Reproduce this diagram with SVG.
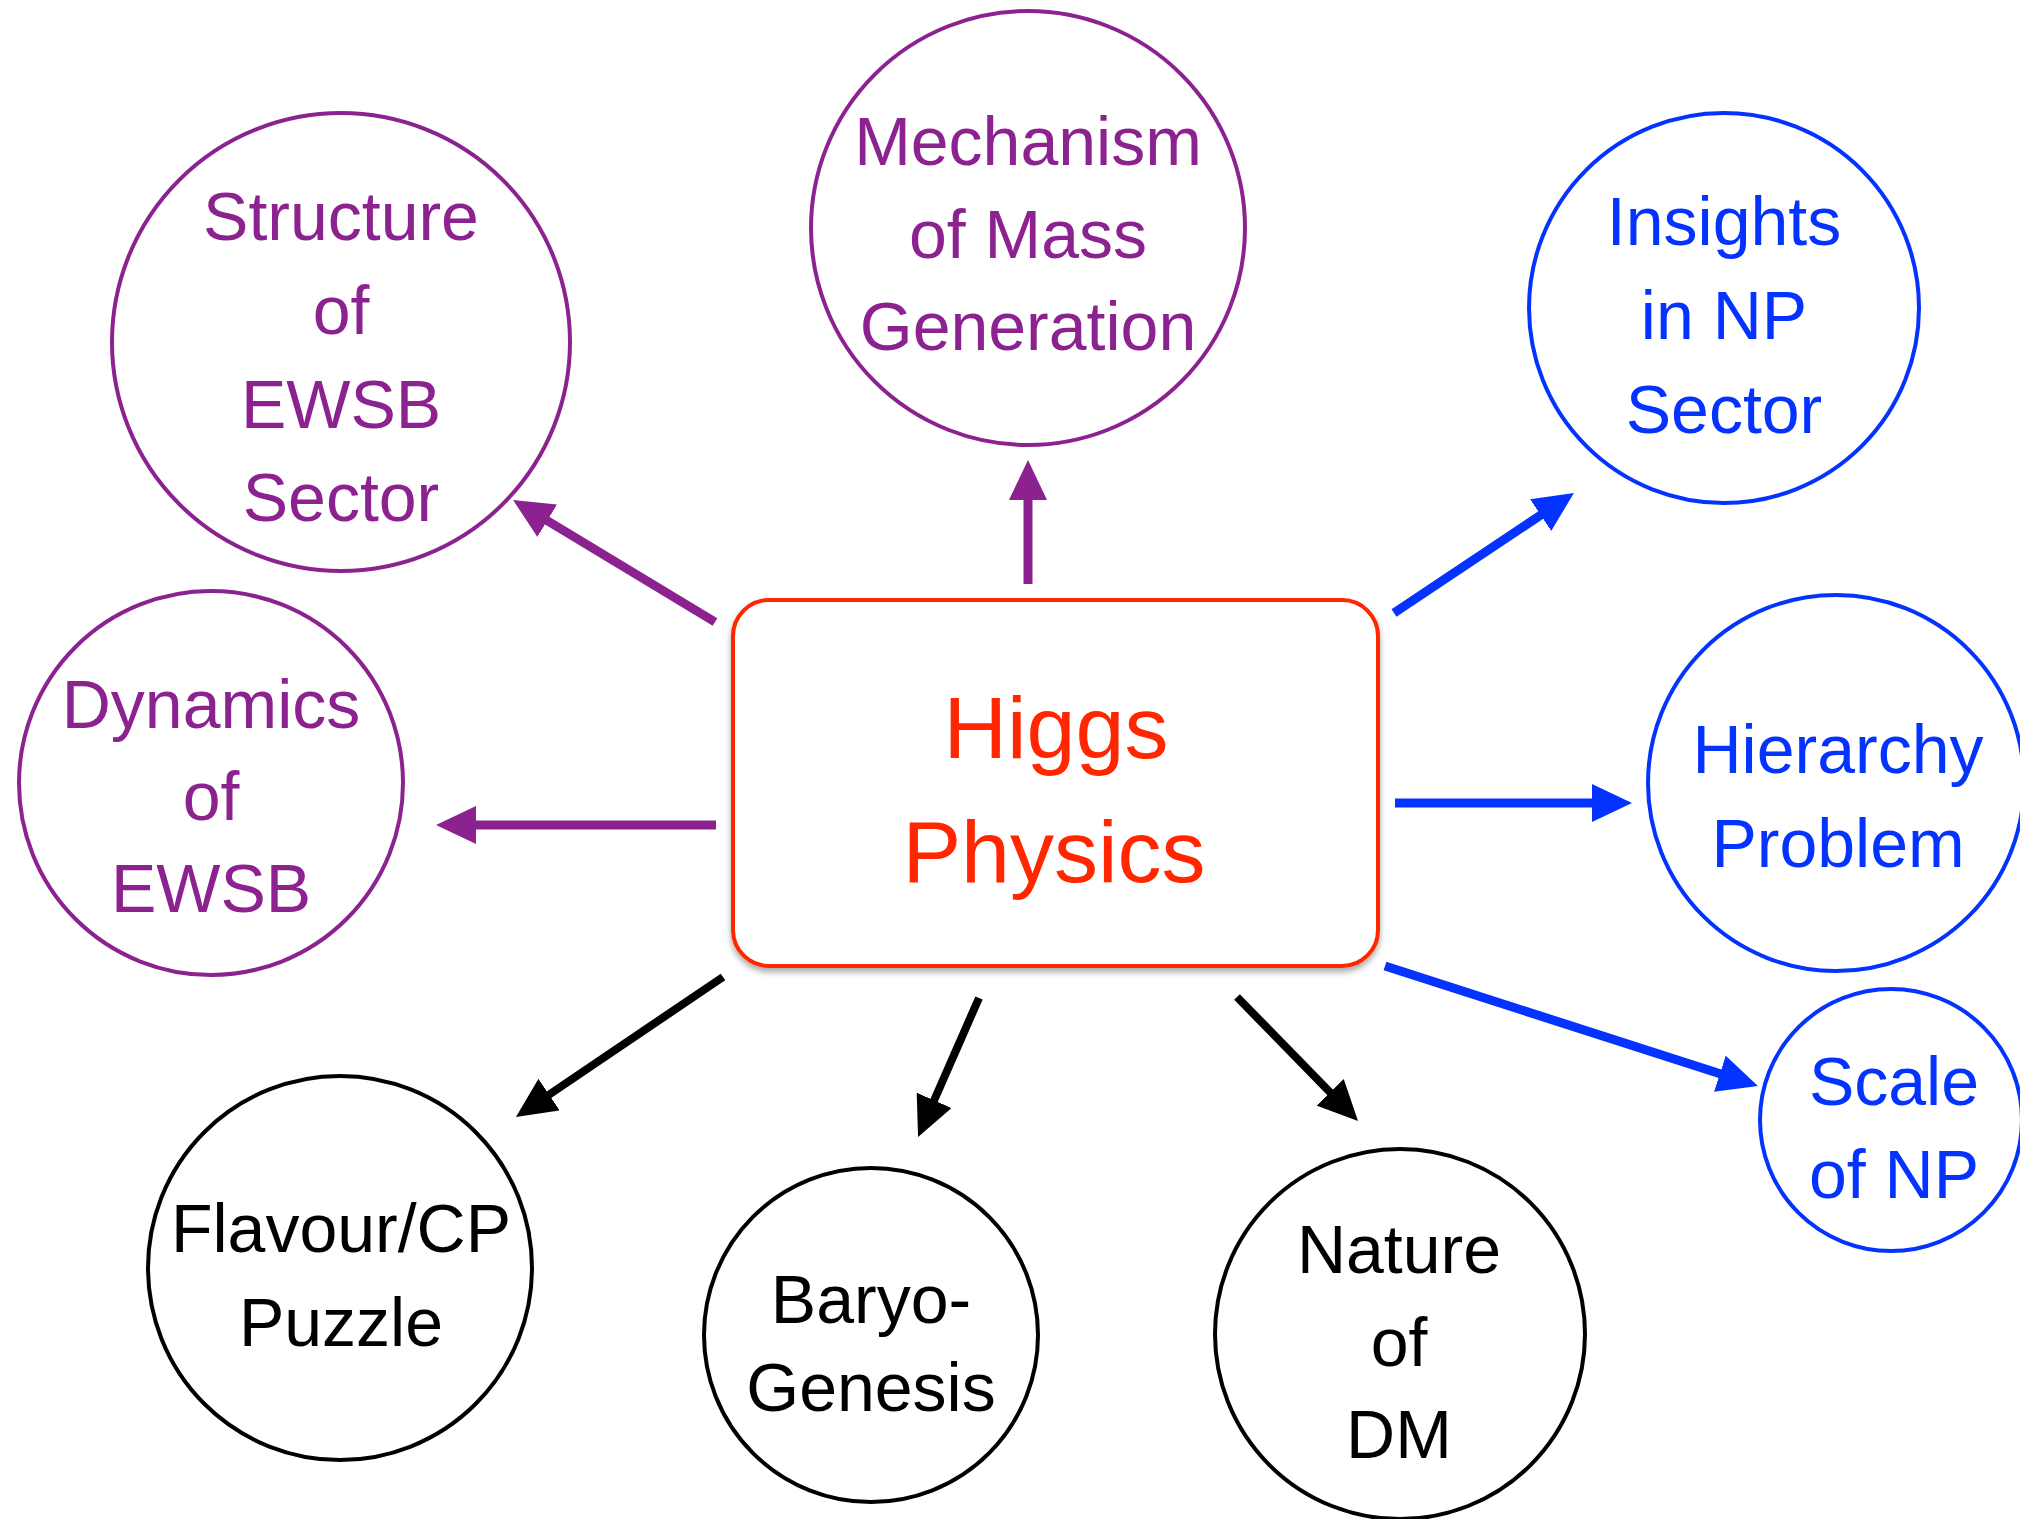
<svg xmlns="http://www.w3.org/2000/svg" width="2020" height="1519" viewBox="0 0 2020 1519">
<defs>
<style>
.t{font-family:"Liberation Sans","DejaVu Sans",sans-serif;font-size:68px;text-anchor:middle}
.pur{fill:#8B2290}.blu{fill:#0433FF}.blk{fill:#000}
.cp{fill:#fff;stroke:#8B2290;stroke-width:4}
.cb{fill:#fff;stroke:#0433FF;stroke-width:4}
.ck{fill:#fff;stroke:#000;stroke-width:4}
.ap{stroke:#8B2290;stroke-width:9;fill:none;marker-end:url(#mp)}
.ab{stroke:#0433FF;stroke-width:9;fill:none;marker-end:url(#mb)}
.ak{stroke:#000;stroke-width:8;fill:none;marker-end:url(#mk)}
</style>
<marker id="mp" markerUnits="userSpaceOnUse" viewBox="0 0 40 38" markerWidth="40" markerHeight="38" refX="10" refY="19" orient="auto"><path d="M0,0 L40,19 L0,38 z" fill="#8B2290"/></marker>
<marker id="mb" markerUnits="userSpaceOnUse" viewBox="0 0 40 38" markerWidth="40" markerHeight="38" refX="10" refY="19" orient="auto"><path d="M0,0 L40,19 L0,38 z" fill="#0433FF"/></marker>
<marker id="mk" markerUnits="userSpaceOnUse" viewBox="0 0 40 38" markerWidth="40" markerHeight="38" refX="10" refY="19" orient="auto"><path d="M0,0 L40,19 L0,38 z" fill="#000"/></marker>
<filter id="sh" x="-5%" y="-5%" width="110%" height="115%"><feDropShadow dx="0" dy="4" stdDeviation="3" flood-color="#000" flood-opacity="0.35"/></filter>
</defs>
<rect width="2020" height="1519" fill="#fff"/>

<g id="connectors">
<line class="ap" x1="1028" y1="584" x2="1028" y2="490"/>
<line class="ap" x1="715" y1="622" x2="538.7" y2="515.5"/>
<line class="ap" x1="716" y1="825" x2="466" y2="825"/>
<line class="ab" x1="1394" y1="613" x2="1549" y2="509.6"/>
<line class="ab" x1="1395" y1="803" x2="1602" y2="803"/>
<line class="ab" x1="1385" y1="966" x2="1729.4" y2="1076.8"/>
<line class="ak" x1="723" y1="977" x2="540.8" y2="1100.2"/>
<line class="ak" x1="979" y1="998" x2="930.1" y2="1109.5"/>
<line class="ak" x1="1237" y1="997" x2="1337.1" y2="1099.5"/>
</g>

<g id="higgs">
<rect x="733" y="600" width="645" height="366" rx="36" ry="36" fill="#fff" stroke="#FF2600" stroke-width="4" filter="url(#sh)"/>
<text class="t" x="1056" y="758" style="font-size:88px;fill:#FF2600">Higgs</text>
<text class="t" x="1054" y="882" style="font-size:88px;fill:#FF2600">Physics</text>
</g>

<g id="mechanism">
<circle class="cp" cx="1028" cy="228" r="217"/>
<text class="t pur" x="1028" y="165">Mechanism</text>
<text class="t pur" x="1028" y="258">of Mass</text>
<text class="t pur" x="1028" y="350">Generation</text>
</g>

<g id="structure">
<circle class="cp" cx="341" cy="342" r="229"/>
<text class="t pur" x="341" y="240">Structure</text>
<text class="t pur" x="341" y="334">of</text>
<text class="t pur" x="341" y="428">EWSB</text>
<text class="t pur" x="341" y="521">Sector</text>
</g>

<g id="dynamics">
<circle class="cp" cx="211" cy="783" r="192"/>
<text class="t pur" x="211" y="728">Dynamics</text>
<text class="t pur" x="211" y="820">of</text>
<text class="t pur" x="211" y="912">EWSB</text>
</g>

<g id="insights">
<circle class="cb" cx="1724" cy="308" r="195"/>
<text class="t blu" x="1724" y="245">Insights</text>
<text class="t blu" x="1724" y="339">in NP</text>
<text class="t blu" x="1724" y="433">Sector</text>
</g>

<g id="hierarchy">
<circle class="cb" cx="1836" cy="783" r="188"/>
<text class="t blu" x="1838" y="773">Hierarchy</text>
<text class="t blu" x="1838" y="867">Problem</text>
</g>

<g id="scale">
<circle class="cb" cx="1891" cy="1120" r="131"/>
<text class="t blu" x="1894" y="1105">Scale</text>
<text class="t blu" x="1894" y="1198">of NP</text>
</g>

<g id="flavour">
<circle class="ck" cx="340" cy="1268" r="192"/>
<text class="t blk" x="341" y="1252">Flavour/CP</text>
<text class="t blk" x="341" y="1346">Puzzle</text>
</g>

<g id="baryo">
<circle class="ck" cx="871" cy="1335" r="167"/>
<text class="t blk" x="871" y="1323">Baryo-</text>
<text class="t blk" x="871" y="1411">Genesis</text>
</g>

<g id="nature">
<circle class="ck" cx="1400" cy="1334" r="185"/>
<text class="t blk" x="1399" y="1273">Nature</text>
<text class="t blk" x="1399" y="1366">of</text>
<text class="t blk" x="1399" y="1458">DM</text>
</g>
</svg>
